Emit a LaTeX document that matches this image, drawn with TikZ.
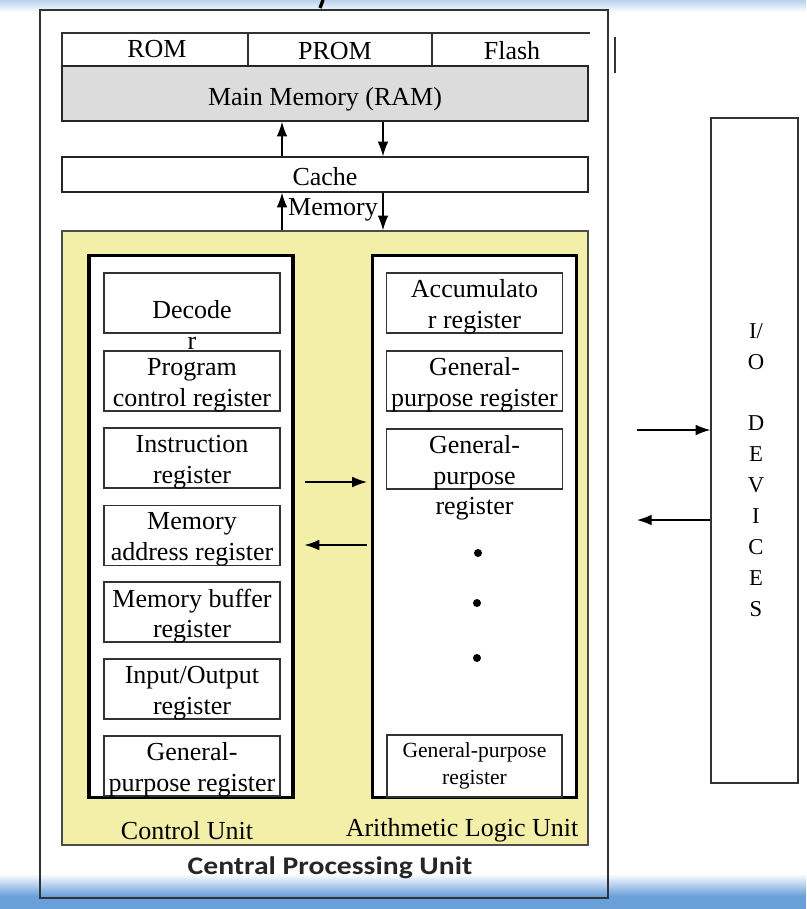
\documentclass[tikz,border=0pt]{standalone}
\usepackage{fontspec}
\usepackage{graphicx}
\setmainfont{Liberation Serif}
\newfontfamily\cpufont{Carlito}
\usetikzlibrary{arrows.meta}
\definecolor{cpuyellow}{RGB}{243,239,168}
\definecolor{memgray}{RGB}{220,220,220}
\definecolor{bandblue}{RGB}{105,160,218}
\definecolor{bandlight}{RGB}{185,210,238}
\newcommand\regnode[4]{\node[regbox] (#1) at (#2,#3) {};\node[txt] (#1t) at (#2,#3+4) {#4};}
\begin{document}
\begin{tikzpicture}[x=0.75pt,y=-0.75pt,
  txt/.style={font=\fontsize{19.5}{23}\selectfont, inner sep=0pt, align=center},
  smalltxt/.style={font=\fontsize{16.2}{20}\selectfont, inner sep=0pt, align=center},
  regbox/.style={draw=black!80, line width=1.1pt, fill=white, minimum width=132pt, minimum height=45pt, inner sep=0pt},
  unitbox/.style={draw=black, line width=2.4pt, fill=white, minimum width=153pt, minimum height=407pt, inner sep=0pt},
  arr/.style={-{Latex[length=11pt,width=8pt]}, line width=0.9pt},
  dotmark/.style={circle, fill=black, inner sep=0pt, minimum size=6pt},
]
\useasboundingbox (0,0) rectangle (806,909);
% background bands
\shade[top color=bandlight, bottom color=white] (0,0) rectangle (806,12);
\shade[top color=white, bottom color=bandblue] (0,874) rectangle (806,896);
\fill[bandblue] (0,896) rectangle (806,909);
\draw[line width=2.5pt] (323,0) -- (320,8);

% CPU outer frame
\node[draw=black!80, line width=1.2pt, minimum width=426pt, minimum height=666pt, inner sep=0pt] (cpu) at (324,454) {};

% ROM / PROM / Flash row
\draw[black!80, line width=1pt] (62,66) -- (62,33) -- (590,33);
\draw[black!80, line width=1pt] (248,33) -- (248,66);
\draw[black!80, line width=1pt] (432,33) -- (432,66);
\node[txt] (rom) at (157,49) {ROM};
\node[txt] (prom) at (335,51) {PROM};
\node[txt] (flash) at (512,51) {Flash};
\draw[black!80, line width=1pt] (615,37) -- (615,73);

% Main memory and cache
\node[draw=black!85, line width=1.2pt, fill=memgray, minimum width=394.5pt, minimum height=41.25pt, inner sep=0pt] (ram) at (325,93.5) {};
\node[txt] (ramt) at (325,99) {Main Memory (RAM)};
\node[draw=black!85, line width=1.1pt, fill=white, minimum width=394.5pt, minimum height=26.25pt, inner sep=0pt] (cache) at (325,174.5) {};
\node[txt] (cachet) at (325,177) {Cache};
\node[txt] (memlabel) at (333,210) {Memory};

% yellow CPU area
\node[draw=black!70, line width=1.1pt, fill=cpuyellow, minimum width=394.5pt, minimum height=460.5pt, inner sep=0pt] (area) at (325,538) {};

\coordinate (xa) at (282,0);
\coordinate (xb) at (383,0);
\draw[arr] (xa |- cache.north) -- (xa |- ram.south);
\draw[arr] (xb |- ram.south) -- (xb |- cache.north);
\draw[arr] (xa |- area.north) -- (xa |- cache.south);
\draw[arr] (xb |- cache.south) -- (xb |- area.north);

% units
\node[unitbox] (cu) at (191,526.5) {};
\node[unitbox] (alu) at (474.5,526.5) {};

% control unit registers
\node[regbox] (dec) at (192,303) {};
\node[txt] (dect) at (192,325) {Decode\\r};
\regnode{pcr}{192}{381}{Program\\control register}
\regnode{ir}{192}{458}{Instruction\\register}
\regnode{mar}{192}{535.5}{Memory\\address register}
\regnode{mbr}{192}{612}{Memory buffer\\register}
\regnode{ior}{192}{689}{Input/Output\\register}
\regnode{gpc}{192}{766}{General-\\purpose register}

% ALU registers
\regnode{acc}{474.5}{303}{Accumulato\\r register}
\regnode{gp1}{474.5}{381}{General-\\purpose register}
\node[regbox] (gp2) at (474.5,459) {};
\node[txt] (gp2t) at (474.5,478) {General-\\purpose\\register};
\node[dotmark] (d1) at (478,553) {};
\node[dotmark] (d2) at (477,603) {};
\node[dotmark] (d3) at (477,658) {};
\node[draw=black!80, line width=1.1pt, fill=white, minimum width=131.25pt, minimum height=46.5pt, inner sep=0pt, smalltxt] (gp3) at (474.5,766) {General-purpose\\register};

% arrows between units
\coordinate (r1) at (0,482);
\coordinate (r2) at (0,545);
\draw[arr, shorten <=7.5pt, shorten >=3pt] (cu.east |- r1) -- (alu.west |- r1);
\draw[arr, shorten <=3pt, shorten >=7.5pt] (alu.west |- r2) -- (cu.east |- r2);

% labels
\node[txt] (cul) at (187,831) {Control Unit};
\node[txt] (alul) at (462,830) {Arithmetic Logic Unit};
\node[inner sep=0pt, font=\cpufont\bfseries\fontsize{19}{22}\selectfont, text=black!85] (cpul) at (330,868) {\scalebox{1.17}[1]{Central Processing Unit}};

% I/O devices
\node[draw=black!80, line width=1pt, fill=white, minimum width=65.25pt, minimum height=498.75pt, inner sep=0pt] (io) at (754.5,450.5) {};
\node[font=\fontsize{17}{23.2}\selectfont, inner sep=0pt, align=center] (iotext) at (756,470) {I/\\O\\[23.2pt]D\\E\\V\\I\\C\\E\\S};
\coordinate (i1) at (637,430);
\coordinate (i2) at (637,520);
\draw[arr] (i1) -- (io.west |- i1);
\draw[arr] (io.west |- i2) -- (i2);
\end{tikzpicture}
\end{document}
